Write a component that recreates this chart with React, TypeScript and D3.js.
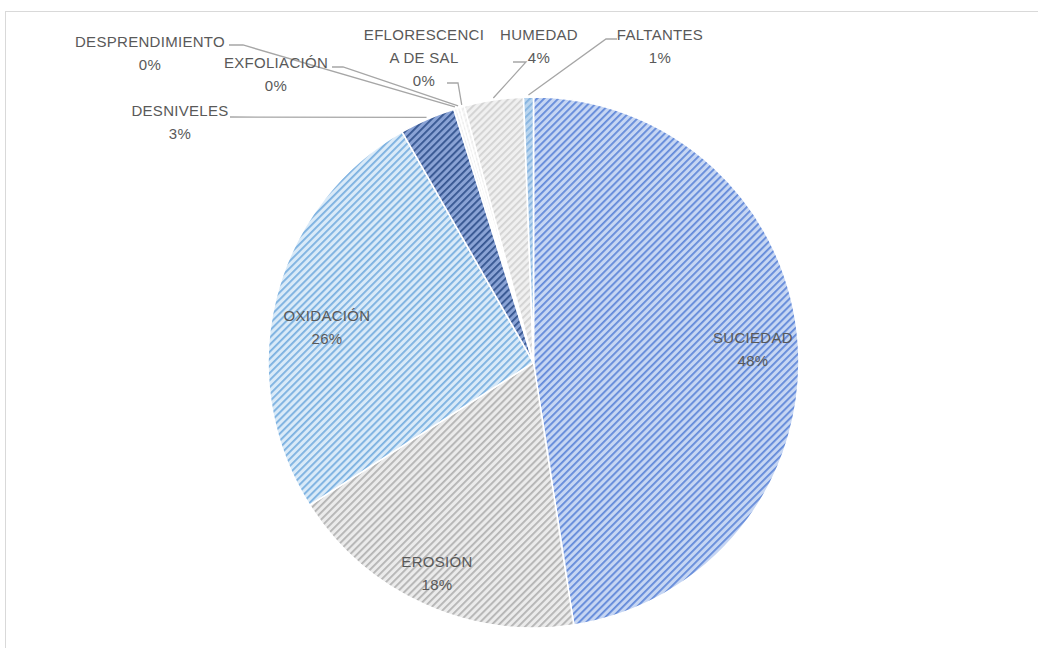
import React from 'react';
import * as d3 from 'd3';

const categories = ['SUCIEDAD', 'EROSIÓN', 'OXIDACIÓN', 'DESNIVELES', 'DESPRENDIMIENTO', 'EXFOLIACIÓN', 'EFLORESCENCIA DE SAL', 'HUMEDAD', 'FALTANTES'];
const values = [47.6, 18.4, 25.8, 3.4, 0.2, 0.2, 0.25, 3.6, 0.6];
// label text as wrapped in the chart
const labelText = [['SUCIEDAD'], ['EROSIÓN'], ['OXIDACIÓN'], ['DESNIVELES'], ['DESPRENDIMIENTO'], ['EXFOLIACIÓN'], ['EFLORESCENCI', 'A DE SAL'], ['HUMEDAD'], ['FALTANTES']];

// fill patterns: [background, stripe]
const fills = [
  ['#c6d6f3', '#6289d9'],
  ['#ebebeb', '#b3b3b3'],
  ['#d9eaf8', '#7ab0e0'],
  ['#8aa3d5', '#34548f'],
  ['#f6f6f6', '#ececec'],
  ['#f6f6f6', '#ececec'],
  ['#f6f6f6', '#ececec'],
  ['#f0f0f0', '#d2d2d2'],
  ['#b9d5ef', '#84b3df'],
];

// label layout: centre x, first line centre y, leader start / elbow (outside labels only)
const labelLayout = [
  { x: 753, y: 338 },
  { x: 437, y: 562 },
  { x: 327, y: 316 },
  { x: 180, y: 111, lead: [[230, 117], [230, 117]] },
  { x: 150, y: 42, lead: [[229, 45], [243, 45]] },
  { x: 276, y: 63, lead: [[332, 67], [343, 67]] },
  { x: 424, y: 35, lead: [[447, 83], [458, 83]] },
  { x: 539, y: 35, lead: [[513, 62], [526, 62]] },
  { x: 660, y: 35, lead: [[617, 39], [606, 39]] },
];

const W = 1038, H = 648;
const cx = 533.5, cy = 362.5, R = 265.5;
const lineH = 23;

export default function App() {
  const total = d3.sum(values);
  const pie = d3.pie<number>().sort(null).value(d => d)(values);
  const arc = d3.arc<d3.PieArcDatum<number>>().innerRadius(0).outerRadius(R);

  return (
    <svg width={W} height={H} style={{ position: 'absolute', left: 0, top: 0, background: '#fff' }}
      fontFamily="'Liberation Sans', Arial, sans-serif">
      <defs>
        {fills.map((f, i) => (
          <pattern key={i} id={`pat${i}`} width={5} height={5} patternUnits="userSpaceOnUse"
            patternTransform="rotate(45)">
            <rect width={5} height={5} fill={f[0]} />
            <rect width={1.8} height={5} fill={f[1]} />
          </pattern>
        ))}
      </defs>
      <rect x={5.5} y={11.5} width={1040} height={650} fill="#fff" stroke="#d9d9d9" />
      <g transform={`translate(${cx},${cy})`}>
        {pie.map((d, i) => (
          <path key={i} d={arc(d) || ''} fill={`url(#pat${i})`} stroke="#fff" strokeWidth={1.6} />
        ))}
      </g>
      {pie.map((d, i) => {
        const L = labelLayout[i];
        if (!L.lead) return null;
        const mid = (d.startAngle + d.endAngle) / 2;
        const ex = cx + (R + 2) * Math.sin(mid);
        const ey = cy - (R + 2) * Math.cos(mid);
        const pts = [L.lead[0], L.lead[1], [ex, ey]];
        return (
          <polyline key={i} points={pts.map(p => p.join(',')).join(' ')} fill="none"
            stroke="#a6a6a6" strokeWidth={1.3} />
        );
      })}
      {labelText.map((lines, i) => {
        const L = labelLayout[i];
        const pct = `${Math.round((values[i] / total) * 100)}%`;
        const all = [...lines, pct];
        return (
          <text key={i} textAnchor="middle" fill="#595959" fontSize={15} letterSpacing={0.3}>
            {all.map((t, j) => (
              <tspan key={j} x={L.x} y={L.y + j * lineH} dy="0.35em">{t}</tspan>
            ))}
          </text>
        );
      })}
    </svg>
  );
}
